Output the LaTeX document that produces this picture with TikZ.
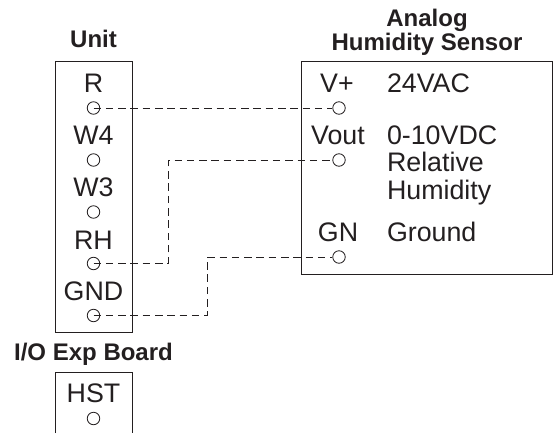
\documentclass[tikz,border=0pt]{standalone}
\usepackage{fontspec}
\setmainfont{Liberation Sans}
\definecolor{ink}{HTML}{231F20}
\tikzset{
  lbl/.style={anchor=base,inner sep=0pt,outer sep=0pt,text=ink,font=\fontsize{26.8}{26.8}\selectfont},
  lft/.style={lbl,anchor=base west},
  ttl/.style={anchor=base,inner sep=0pt,outer sep=0pt,text=ink,font=\fontsize{24}{24}\selectfont\bfseries},
  term/.style={circle,draw=ink,line width=0.8pt,minimum size=12.5pt,inner sep=0pt},
  wire/.style={draw=ink,line width=0.9pt,dash pattern=on 7.5pt off 4.8pt},
  frame/.style={draw=ink,line width=1pt}
}
\begin{document}
\begin{tikzpicture}[x=1pt,y=-1pt]
\useasboundingbox (0,0) rectangle (553,433);
% boxes
\draw[frame] (55,62) rectangle (132,332);
\draw[frame] (55,433) -- (55,372) -- (132,372) -- (132,433);
\draw[frame] (301,62) rectangle (552,274);
% titles
\node[ttl] (tunit) at (93.5,48) {Unit};
\node[ttl] (tio) at (93.5,360.7) {I/O Exp Board};
\node[ttl] (tan) at (427,26.7) {Analog};
\node[ttl] (ths) at (427,50.7) {Humidity Sensor};
% left labels
\node[lbl] (lr) at (93.5,92.7) {R};
\node[lbl] (lw4) at (93.5,144.5) {W4};
\node[lbl] (lw3) at (93.5,196) {W3};
\node[lbl] (lrh) at (93.5,249) {RH};
\node[lbl] (lgnd) at (93.5,300.7) {GND};
\node[lbl] (lhst) at (93.5,402.7) {HST};
% right labels
\node[lbl] (lvp) at (337,92.7) {V+};
\node[lbl] (lvo) at (338,144.5) {Vout};
\node[lbl] (lgn) at (338,241.7) {GN};
\node[lft] (d1) at (387,92.7) {24VAC};
\node[lft] (d2) at (387,144.5) {0-10VDC};
\node[lft] (d3) at (387,171.7) {Relative};
\node[lft] (d4) at (387,199) {Humidity};
\node[lft] (d5) at (387,241.7) {Ground};
% terminals
\node[term] (tr) at (93.5,108) {};
\node[term] (tw4) at (93.5,160) {};
\node[term] (tw3) at (93.5,212) {};
\node[term] (trh) at (93.5,263.5) {};
\node[term] (tg) at (93.5,315.5) {};
\node[term] (th) at (93.5,418.5) {};
\node[term] (svp) at (339,108) {};
\node[term] (svo) at (339,160) {};
\node[term] (sgn) at (339,257) {};
% corners
\coordinate (c1a) at (168.5,160);
\coordinate (c1b) at (168.5,263.5);
\coordinate (c2a) at (207.5,257);
\coordinate (c2b) at (207.5,315.5);
% wires
\draw[wire] (tr.center) -- (svp.west);
\draw[wire] (trh.center) -- (c1b) -- (c1a) -- (svo.west);
\draw[wire] (tg.center) -- (c2b) -- (c2a) -- (sgn.west);
\end{tikzpicture}
\end{document}
